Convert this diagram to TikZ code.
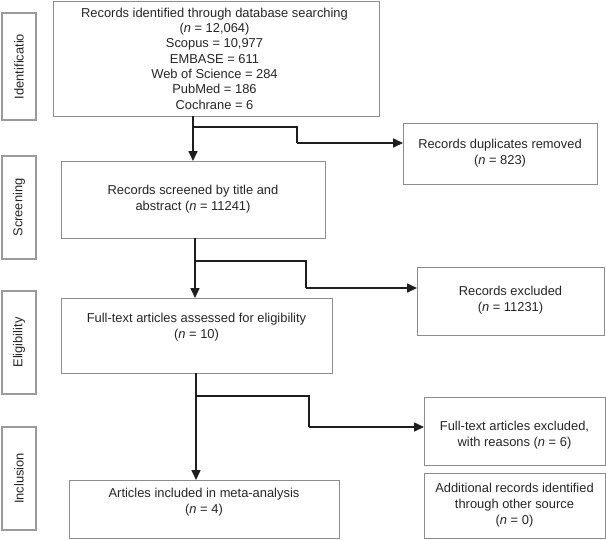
\documentclass[tikz,border=0pt]{standalone}
\usepackage{fontspec}
\setmainfont{Liberation Sans}
\usetikzlibrary{arrows.meta}
\definecolor{boxgray}{HTML}{8C8C8C}
\definecolor{sidegray}{HTML}{9A9A9A}
\definecolor{txt}{HTML}{262626}
\definecolor{linec}{HTML}{1E1E1E}
\begin{document}
\begin{tikzpicture}[x=1pt,y=-1pt,
  every node/.style={inner sep=0pt, outer sep=0pt, text=txt, font=\fontsize{12.9}{16}\selectfont},
  mainbox/.style={draw=boxgray, line width=1pt, rectangle},
  sidebox/.style={draw=sidegray, line width=1.1pt, rectangle, minimum width=34pt},
  sz/.style 2 args={minimum width=#1pt, minimum height=#2pt},
  txtnode/.style={align=center},
  arr/.style={draw=linec, line width=1.6pt, -{Triangle[length=10pt,width=9pt]}},
  seg/.style={draw=linec, line width=1.6pt}
]
\useasboundingbox (0,0) rectangle (606,539);
\fill[white] (0,0) rectangle (606,539);

% side boxes
\node[sidebox, minimum height=107pt] (s1) at (19,66.5) {};
\node[rotate=90] (s1t) at (s1.center) {Identificatio};
\node[sidebox, minimum height=103pt] (s2) at (19,207.5) {};
\node[rotate=90] (s2t) at (s2.center) {Screening};
\node[sidebox, minimum height=103pt] (s3) at (19,342.5) {};
\node[rotate=90] (s3t) at (s3.center) {Eligibility};
\node[sidebox, minimum height=103pt] (s4) at (19,478.5) {};
\node[rotate=90] (s4t) at (s4.center) {Inclusion};

% main boxes
\node[mainbox, sz={326}{115}] (b1) at (216,58.5) {};
\node[txtnode, font=\fontsize{12.9}{15.3}\selectfont] (b1t) at (214.5,58.5) {Records identified through database searching\\(\textit{n} = 12,064)\\Scopus = 10,977\\EMBASE = 611\\Web of Science = 284\\PubMed = 186\\Cochrane = 6};

\node[mainbox, sz={194}{61}] (dup) at (500,153.5) {};
\node[txtnode] (dupt) at (500,153.5) {Records duplicates removed\\(\textit{n} = 823)};

\node[mainbox, sz={264}{77}] (b2) at (193,199.5) {};
\node[txtnode] (b2t) at (193,199.5) {Records screened by title and\\abstract (\textit{n} = 11241)};

\node[mainbox, sz={187}{68}] (ex) at (510.5,301) {};
\node[txtnode] (ext) at (510.5,300.5) {Records excluded\\(\textit{n} = 11231)};

\node[mainbox, sz={271}{75}] (b3) at (196.5,335.5) {};
\node[txtnode] (b3t) at (196.5,327) {Full-text articles assessed for eligibility\\(\textit{n} = 10)};

\node[mainbox, sz={181}{68}] (fte) at (514.5,431) {};
\node[txtnode] (ftet) at (514.5,435.5) {Full-text articles excluded,\\with reasons (\textit{n} = 6)};

\node[mainbox, sz={270}{58}] (b4) at (204,509) {};
\node[txtnode] (b4t) at (204,502) {Articles included in meta-analysis\\(\textit{n} = 4)};

\node[mainbox, sz={181}{65}] (add) at (514.5,505.5) {};
\node[txtnode] (addt) at (514.5,505) {Additional records identified\\through other source\\(\textit{n} = 0)};

% connectors
\coordinate (j1) at (193,127);
\coordinate (k1) at (297,143);
\draw[arr] (b1.south -| j1) -- (b2.north -| j1);
\draw[seg] (j1) -| (k1);
\draw[arr] (k1) -- (dup.west |- k1);

\coordinate (j2) at (195,261);
\coordinate (k2) at (306,288);
\draw[arr] (b2.south -| j2) -- (b3.north -| j2);
\draw[seg] (j2) -| (k2);
\draw[arr] (k2) -- (ex.west |- k2);

\coordinate (j3) at (196,396);
\coordinate (k3) at (309,427);
\draw[arr] (b3.south -| j3) -- (b4.north -| j3);
\draw[seg] (j3) -| (k3);
\draw[arr] (k3) -- (fte.west |- k3);
\end{tikzpicture}
\end{document}
